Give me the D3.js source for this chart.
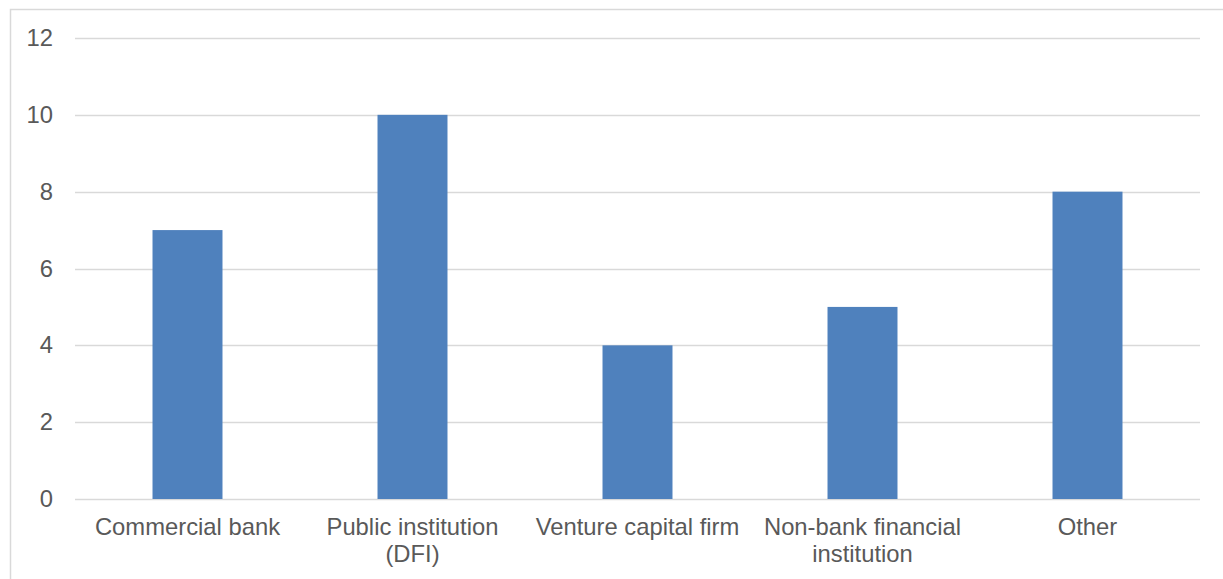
<!DOCTYPE html>
<html>
<head>
<meta charset="utf-8">
<script src="https://cdn.jsdelivr.net/npm/d3@7"></script>
<style>
  html, body { margin: 0; padding: 0; background: #fff; }
  svg { display: block; }
</style>
</head>
<body>
<svg id="chart" width="1223" height="579"></svg>
<script>
const categories = ["Commercial bank", "Public institution (DFI)", "Venture capital firm", "Non-bank financial institution", "Other"];
const values = [7, 10, 4, 5, 8];
const yTicks = [0, 2, 4, 6, 8, 10, 12];

const W = 1223, H = 579;
const margin = { left: 75, right: 23, top: 38, bottom: 80 };
const svg = d3.select("#chart");
const fontFamily = "'Liberation Sans', Arial, sans-serif";
const textColor = "#595959";

// outer border
svg.append("rect")
  .attr("x", 10.5).attr("y", 9.5)
  .attr("width", W + 20).attr("height", H + 20)
  .attr("fill", "none").attr("stroke", "#D9D9D9").attr("stroke-width", 1.5);

const x = d3.scaleBand()
  .domain(categories)
  .range([margin.left, W - margin.right])
  .paddingInner(0.689)
  .paddingOuter(0.3445);

const y = d3.scaleLinear()
  .domain([0, 12])
  .range([H - margin.bottom, margin.top]);

// gridlines
svg.append("g").selectAll("line")
  .data(yTicks)
  .join("line")
  .attr("x1", margin.left).attr("x2", W - margin.right)
  .attr("y1", d => Math.round(y(d)) + 0.5).attr("y2", d => Math.round(y(d)) + 0.5)
  .attr("stroke", "#D9D9D9").attr("stroke-width", 1.5);

// y axis labels
const yAxis = d3.axisLeft(y).tickValues(yTicks).tickSize(0).tickPadding(0);
const gy = svg.append("g").attr("transform", `translate(53,0)`).call(yAxis);
gy.select(".domain").remove();
gy.selectAll("text")
  .attr("fill", textColor)
  .style("font-family", fontFamily)
  .style("font-size", "23.8px");

// bars
svg.append("g").selectAll("rect")
  .data(values)
  .join("rect")
  .attr("x", (d, i) => x(categories[i]))
  .attr("width", x.bandwidth())
  .attr("y", d => y(d))
  .attr("height", d => y(0) - y(d))
  .attr("fill", "#4F81BD");

// x axis labels with wrapping
const xAxis = d3.axisBottom(x).tickSize(0).tickPadding(0);
const gx = svg.append("g").attr("transform", `translate(0,${y(0)})`).call(xAxis);
gx.select(".domain").remove();
gx.selectAll("text")
  .attr("fill", textColor)
  .style("font-family", fontFamily)
  .style("font-size", "23.8px")
  .attr("dy", null)
  .attr("y", 0)
  .each(function(d) {
    const t = d3.select(this);
    const words = d.split(" ");
    const maxW = x.step() - 4;
    t.text(null);
    let lines = [], line = [];
    const probe = t.append("tspan");
    words.forEach(w => {
      const test = line.concat([w]).join(" ");
      probe.text(test);
      if (probe.node().getComputedTextLength() > maxW && line.length) {
        lines.push(line.join(" "));
        line = [w];
      } else {
        line.push(w);
      }
    });
    lines.push(line.join(" "));
    probe.remove();
    lines.forEach((l, i) => {
      t.append("tspan").attr("x", 0).attr("y", 36 + i * 27).text(l);
    });
  });
</script>
</body>
</html>
